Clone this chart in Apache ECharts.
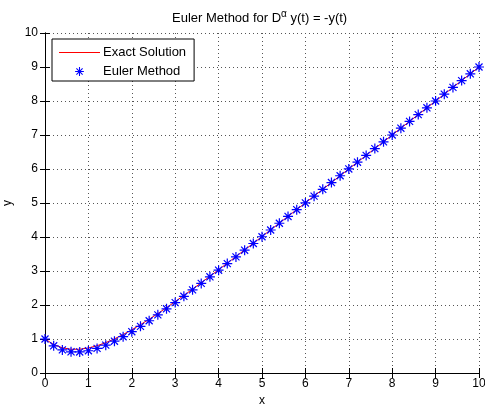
<!DOCTYPE html>
<html>
<head>
<meta charset="utf-8">
<script src="https://cdn.jsdelivr.net/npm/echarts@6/dist/echarts.min.js"></script>
<style>
  html, body { margin: 0; padding: 0; background: #fff; }
  #main { width: 485px; height: 406px; }
</style>
</head>
<body>
<div id="main"></div>
<script>
// x (t) values, step 0.2
var tValues = [0, 0.2, 0.4, 0.6, 0.8, 1, 1.2, 1.4, 1.6, 1.8, 2, 2.2, 2.4, 2.6, 2.8, 3, 3.2, 3.4, 3.6, 3.8,
  4, 4.2, 4.4, 4.6, 4.8, 5, 5.2, 5.4, 5.6, 5.8, 6, 6.2, 6.4, 6.6, 6.8, 7, 7.2, 7.4, 7.6, 7.8,
  8, 8.2, 8.4, 8.6, 8.8, 9, 9.2, 9.4, 9.6, 9.8, 10];
// exact solution (red line)
var exactValues = [1.000, 0.837, 0.741, 0.698, 0.699, 0.736, 0.802, 0.893, 1.004, 1.131,
  1.271, 1.422, 1.581, 1.749, 1.922, 2.100, 2.282, 2.467, 2.655, 2.845,
  3.037, 3.230, 3.425, 3.620, 3.816, 4.013, 4.211, 4.409, 4.607, 4.806,
  5.005, 5.204, 5.403, 5.603, 5.802, 6.002, 6.201, 6.401, 6.601, 6.800,
  7.000, 7.200, 7.400, 7.600, 7.800, 8.000, 8.200, 8.400, 8.600, 8.800, 9.000];
// euler method (blue stars)
var eulerValues = [1.000, 0.800, 0.680, 0.624, 0.619, 0.655, 0.724, 0.819, 0.936, 1.068,
  1.215, 1.372, 1.537, 1.710, 1.888, 2.070, 2.256, 2.445, 2.636, 2.829,
  3.023, 3.218, 3.415, 3.612, 3.809, 4.008, 4.206, 4.405, 4.604, 4.803,
  5.002, 5.202, 5.401, 5.601, 5.801, 6.001, 6.200, 6.400, 6.600, 6.800,
  7.000, 7.200, 7.400, 7.600, 7.800, 8.000, 8.200, 8.400, 8.600, 8.800, 9.000];

var FONT = '"Liberation Sans", Arial, Helvetica, sans-serif';

// asterisk marker (plus + x)
var STAR = 'path://M-10,-1.2L10,-1.2L10,1.2L-10,1.2Z' +
  'M-1.2,-10L1.2,-10L1.2,10L-1.2,10Z' +
  'M-6.2,-7.9L7.9,6.2L6.2,7.9L-7.9,-6.2Z' +
  'M-7.9,6.2L6.2,-7.9L7.9,-6.2L-6.2,7.9Z';
// thin bar for the legend line
var LEGEND_LINE = 'path://M0,0L41,0L41,1L0,1Z';

function pairs(xs, ys) {
  var out = [];
  for (var i = 0; i < xs.length; i++) out.push([xs[i], ys[i]]);
  return out;
}

var chart = echarts.init(document.getElementById('main'));

var gridLine = { show: true, lineStyle: { color: '#555', width: 1, type: [1, 3] } };
var tick = { show: true, inside: true, length: 5, lineStyle: { color: '#000' } };
var axLine = { show: true, lineStyle: { color: '#000', width: 1 } };
var lbl = { color: '#000', fontSize: 12, fontFamily: FONT };

chart.setOption({
  animation: false,
  backgroundColor: '#fff',
  textStyle: { fontFamily: FONT },
  grid: { left: 45, right: 6, top: 33, bottom: 33, containLabel: false, outerBoundsMode: 'none' },
  graphic: [{
    type: 'text',
    left: 172,
    top: 9,
    style: {
      text: '{n|Euler Method for D}{a|α}{n| y(t) = -y(t)}',
      rich: {
        n: { fontSize: 13, fontFamily: FONT, fill: '#000', lineHeight: 15 },
        a: { fontSize: 10, fontFamily: FONT, fill: '#000', padding: [0, 0, 9, 0] }
      }
    }
  }],
  legend: {
    orient: 'vertical',
    left: 52,
    top: 39,
    padding: [7, 8, 3, 7],
    itemGap: 6,
    itemWidth: 41,
    itemHeight: 11,
    borderColor: '#000',
    borderWidth: 1,
    borderRadius: 0,
    backgroundColor: '#fff',
    textStyle: { fontSize: 13, lineHeight: 13, color: '#000', fontFamily: FONT, padding: [0, 0, 0, -2] },
    data: [{ name: 'Exact Solution', icon: LEGEND_LINE }, 'Euler Method']
  },
  xAxis: [{
    type: 'value', min: 0, max: 10, interval: 1, position: 'bottom',
    name: 'x', nameLocation: 'middle', nameGap: 22,
    nameTextStyle: { color: '#000', fontSize: 12, fontFamily: FONT },
    axisLine: axLine, axisTick: tick,
    axisLabel: Object.assign({ margin: 5 }, lbl),
    splitLine: gridLine
  }, {
    type: 'value', min: 0, max: 10, interval: 1, position: 'top',
    axisLine: axLine, axisTick: tick,
    axisLabel: { show: false }, splitLine: { show: false }
  }],
  yAxis: [{
    type: 'value', min: 0, max: 10, interval: 1, position: 'left',
    name: 'y', nameLocation: 'middle', nameGap: 26, nameRotate: 90,
    nameTextStyle: { color: '#000', fontSize: 12, fontFamily: FONT },
    axisLine: axLine, axisTick: tick,
    axisLabel: Object.assign({ margin: 7 }, lbl),
    splitLine: gridLine
  }, {
    type: 'value', min: 0, max: 10, interval: 1, position: 'right',
    axisLine: axLine, axisTick: tick,
    axisLabel: { show: false }, splitLine: { show: false }
  }],
  series: [{
    name: 'Exact Solution',
    type: 'line',
    data: pairs(tValues, exactValues),
    symbol: 'none',
    lineStyle: { color: '#ff0000', width: 1 },
    itemStyle: { color: '#ff0000' },
    z: 2
  }, {
    name: 'Euler Method',
    type: 'line',
    data: pairs(tValues, eulerValues),
    symbol: STAR,
    symbolSize: 10,
    showAllSymbol: true,
    lineStyle: { width: 0, color: '#0000ff' },
    itemStyle: { color: '#0000ff' },
    z: 3
  }]
});
</script>
</body>
</html>
